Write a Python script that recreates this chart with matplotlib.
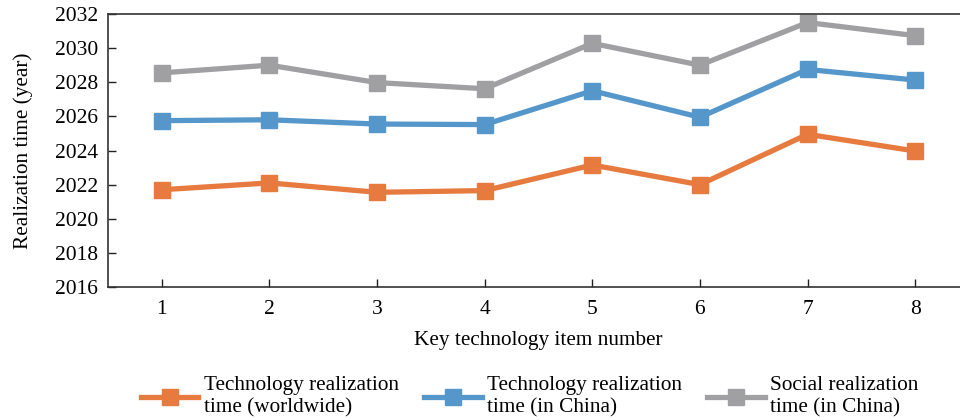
#!/usr/bin/env python3
"""Realization time of key technology items (worldwide vs. China)."""

import matplotlib
matplotlib.use("Agg")
import matplotlib.pyplot as plt

# ── Data ─────────────────────────────────────────────────────────────────
items = [1, 2, 3, 4, 5, 6, 7, 8]
tech_world = [2021.7, 2022.1, 2021.55, 2021.65, 2023.15, 2022.0, 2024.95, 2023.97]
tech_china = [2025.75, 2025.8, 2025.55, 2025.52, 2027.5, 2025.95, 2028.75, 2028.13]
social_china = [2028.55, 2029.0, 2027.98, 2027.62, 2030.28, 2029.0, 2031.5, 2030.73]

labels = [
    "Technology realization\ntime (worldwide)",
    "Technology realization\ntime (in China)",
    "Social realization\ntime (in China)",
]
colors = ["#E67A3F", "#5596CB", "#A0A0A3"]
y_ticks = list(range(2016, 2033, 2))

plt.rcParams["font.family"] = ["Liberation Serif", "DejaVu Serif"]
plt.rcParams["font.size"] = 15.3

fig = plt.figure(figsize=(9.6, 4.2), dpi=100)
# axes runs past the right edge of the picture, like the reference crop
ax = fig.add_axes([108 / 960, 1 - 287 / 420, (969 - 108) / 960, (287 - 14) / 420])

for series, label, color in zip([tech_world, tech_china, social_china], labels, colors):
    ax.plot(items, series, color=color, linewidth=3.8, marker="s",
            markersize=11, label=label)

ax.set_xlim(0.5, 8.5)
ax.set_ylim(2016, 2032)
ax.set_xticks(items)
ax.set_yticks(y_ticks)
ax.tick_params(direction="in", length=6, width=1.0, colors="#222222",
               labelcolor="black", labelsize=15.5)
ax.tick_params(axis="x", pad=9)
ax.tick_params(axis="y", pad=7)
for spine in ax.spines.values():
    spine.set_color("#333333")
    spine.set_linewidth(1.2)

ax.set_xlabel("Key technology item number")
ax.set_ylabel("Realization time (year)")
ax.xaxis.set_label_coords(0.5, -(331 - 287) / 273)
ax.yaxis.set_label_coords(-(108 - 33) / 861, 0.5)

fig.legend(loc="center left", bbox_to_anchor=(141 / 960, 1 - 397 / 420), ncol=3,
           frameon=False, borderpad=0, borderaxespad=0,
           handlelength=2.7, handletextpad=0.25, columnspacing=1.2)

fig.savefig("out.png", dpi=100)
